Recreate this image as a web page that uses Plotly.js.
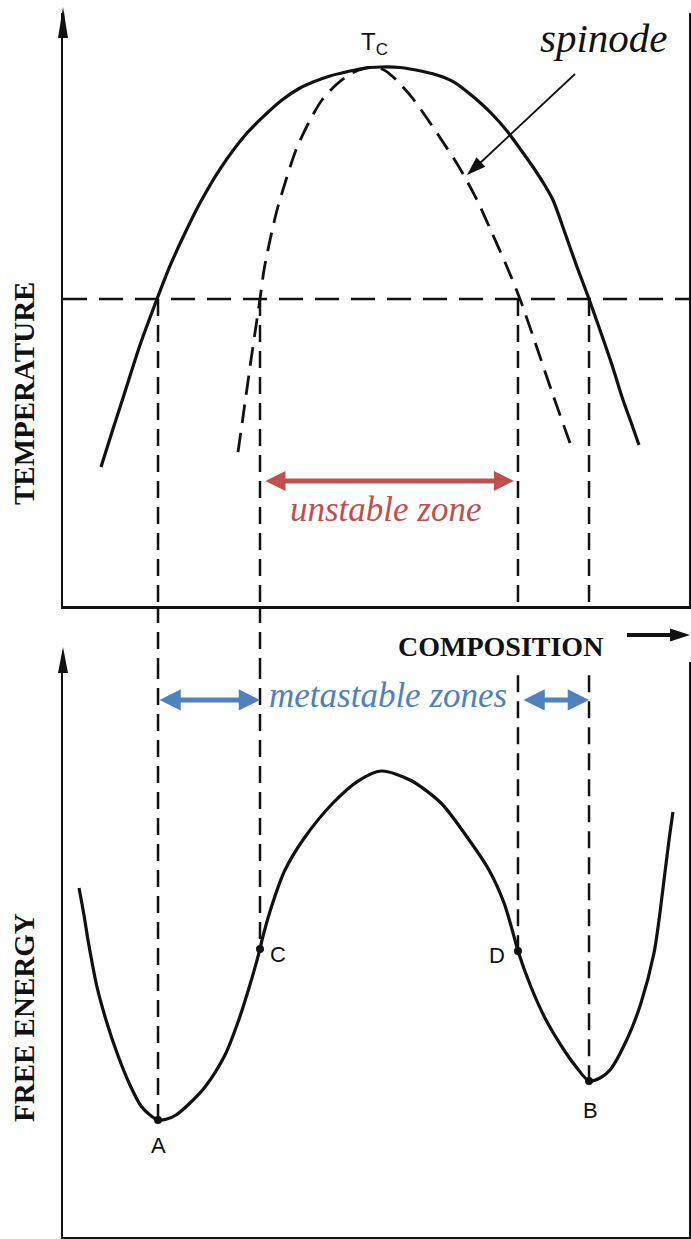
<!DOCTYPE html>
<html><head><meta charset="utf-8">
<script src="https://cdn.plot.ly/plotly-3.0.1.min.js"></script>
<style>html,body{margin:0;padding:0;background:#fff;} #chart{width:691px;height:1239px;}</style>
</head><body><div id="chart"></div>
<script>
// ---------- DATA (composition 0-1, temperature / free energy in arbitrary units 0-100) ----------
const binodalX = [0.0607,0.0783,0.0974,0.1230,0.1502,0.1709,0.1949,0.2188,0.2508,0.2939,0.3227,0.3498,0.3786,0.3994,0.4265,0.4553,0.4824,0.5080,
                  0.5383,0.5751,0.6022,0.6246,0.6597,0.6853,0.7093,0.7316,0.7508,0.7684,0.7827,0.8019,0.8211,0.8403,0.8578,0.8770,0.8946,0.9073,0.9201];
const binodalT = [23.44,29.34,35.58,44.01,51.77,57.34,62.90,67.96,73.69,79.76,82.80,85.33,87.35,88.36,89.38,90.13,90.73,90.89,
                  90.81,90.13,89.38,88.36,85.50,82.97,80.10,76.90,74.03,71.16,68.47,62.90,57.17,51.77,46.54,40.64,34.74,31.03,27.15];
const spinodalX = [0.2796,0.2891,0.3003,0.3083,0.3147,0.3211,0.3307,0.3419,0.3562,0.3722,0.3930,0.4137,0.4377,0.4617,0.4824,0.4984,
                   0.5128,0.5256,0.5415,0.5607,0.5974,0.6326,0.6613,0.6853,0.7093,0.7300,0.7572,0.7827,0.8099];
const spinodalT = [25.97,33.05,41.48,47.22,51.77,56.66,61.72,66.78,71.84,76.90,81.62,85.33,88.03,89.88,90.64,90.84,
                   90.39,89.38,87.69,85.33,79.76,74.03,68.47,62.90,57.17,51.77,43.51,35.58,27.49];
const tieT = 51.77;          // temperature of the horizontal dashed line
const criticalX = 0.505, criticalT = 90.89;

const energyX = [0.0256,0.0335,0.0399,0.0463,0.0543,0.0687,0.0863,0.1070,0.1246,0.1390,0.1518,0.1661,0.1805,0.2013,0.2268,0.2588,0.2796,0.2971,
                 0.3147,0.3179,0.3339,0.3546,0.3866,0.4313,0.4712,0.5080,0.5543,0.6038,0.6454,0.6805,0.7045,0.7220,0.7268,0.7476,0.7716,
                 0.8035,0.8211,0.8403,0.8578,0.8738,0.9026,0.9233,0.9441,0.9521,0.9601,0.9681,0.9744];
const energyG = [60.70,56.00,51.65,47.83,43.48,37.74,32.00,26.43,22.78,21.22,20.35,20.52,21.22,23.13,26.09,31.65,37.39,43.30,
                 50.09,51.65,57.74,63.83,69.57,75.48,79.30,81.04,79.48,75.48,69.57,63.83,58.09,51.65,49.74,43.48,37.74,
                 32.00,29.39,27.13,27.65,29.04,34.78,40.70,49.39,55.13,62.09,69.04,73.91];

const pointLabels = ['A','C','D','B'];
const pointX = [0.1518,0.3147,0.7268,0.8403];
const pointG = [20.35,50.09,49.74,27.13];
const guideStartG = [100,100,97.7,97.7];   // where each guide re-enters the lower panel

const labelTemperature = 'TEMPERATURE';
const labelEnergy = 'FREE ENERGY';
const labelComposition = 'COMPOSITION';
const labelSpinode = 'spinode';
const labelUnstable = 'unstable zone';
const labelMetastable = 'metastable zones';

// ---------- helpers for decoration in paper space ----------
const FIG_W = 691, FIG_H = 1239, ML = 63, MR = 2, MT = 0, MB = 2;
const PW = FIG_W - ML - MR, PH = FIG_H - MT - MB;
const ppx = x => (x - ML) / PW;
const ppy = y => 1 - (y - MT) / PH;
function headPath(tx, ty, fx, fy, len, hw) {
  const dx = tx - fx, dy = ty - fy, d = Math.hypot(dx, dy);
  const ux = dx / d, uy = dy / d;
  const bx = tx - ux * len, by = ty - uy * len;
  const nx = -uy, ny = ux;
  return 'M' + ppx(tx) + ',' + ppy(ty) + ' L' + ppx(bx + nx * hw) + ',' + ppy(by + ny * hw) +
         ' L' + ppx(bx - nx * hw) + ',' + ppy(by - ny * hw) + ' Z';
}
const INK = '#111111';
const topDomain = [ppy(606), ppy(13)];
const botDomain = [0, ppy(662)];
const GUIDE = {color: INK, width: 2.5, dash: '17px,9px'};

// ---------- traces ----------
const guideTopX = [], guideTopY = [], guideBotX = [], guideBotY = [];
pointX.forEach((x, i) => {
  guideTopX.push(x, x, null); guideTopY.push(tieT, 0, null);
  guideBotX.push(x, x, null); guideBotY.push(guideStartG[i], pointG[i], null);
});

const traces = [
  {x: binodalX, y: binodalT, xaxis: 'x', yaxis: 'y', mode: 'lines', line: {color: INK, width: 3.2, shape: 'spline', smoothing: 0.8}, hoverinfo: 'skip'},
  {x: spinodalX, y: spinodalT, xaxis: 'x', yaxis: 'y', mode: 'lines', line: {color: INK, width: 2.8, shape: 'spline', smoothing: 0.8, dash: '19px,10px'}, hoverinfo: 'skip'},
  {x: [0, 1], y: [tieT, tieT], xaxis: 'x', yaxis: 'y', mode: 'lines', line: {color: INK, width: 2.6, dash: '24px,12px'}, hoverinfo: 'skip'},
  {x: guideTopX, y: guideTopY, xaxis: 'x', yaxis: 'y', mode: 'lines', line: GUIDE, hoverinfo: 'skip'},
  {x: guideBotX, y: guideBotY, xaxis: 'x2', yaxis: 'y2', mode: 'lines', line: GUIDE, hoverinfo: 'skip'},
  {x: energyX, y: energyG, xaxis: 'x2', yaxis: 'y2', mode: 'lines', line: {color: INK, width: 3.2, shape: 'spline', smoothing: 0.8}, hoverinfo: 'skip'},
  {x: pointX, y: pointG, xaxis: 'x2', yaxis: 'y2', mode: 'markers', marker: {color: INK, size: 8}, hoverinfo: 'skip'}
];

// ---------- shapes (connectors between panels + arrows) ----------
const shapes = [];
// the two left guides run on through the gap between the panels
[0, 1].forEach(i => shapes.push({type: 'line', xref: 'x', yref: 'paper', x0: pointX[i], x1: pointX[i],
  y0: topDomain[0], y1: botDomain[1], line: GUIDE}));
// y-axis arrowheads
shapes.push({type: 'path', xref: 'paper', yref: 'paper', path: headPath(63, 7, 63, 40, 31, 5), fillcolor: INK, line: {width: 0}});
shapes.push({type: 'line', xref: 'paper', yref: 'paper', x0: 0, x1: 0, y0: ppy(13), y1: ppy(30), line: {color: INK, width: 2.5}});
shapes.push({type: 'path', xref: 'paper', yref: 'paper', path: headPath(63, 647, 63, 680, 26, 5), fillcolor: INK, line: {width: 0}});
// composition arrow
shapes.push({type: 'line', xref: 'paper', yref: 'paper', x0: ppx(627), x1: ppx(674), y0: ppy(635), y1: ppy(635), line: {color: INK, width: 4}});
shapes.push({type: 'path', xref: 'paper', yref: 'paper', path: headPath(690, 635, 627, 635, 20, 6.5), fillcolor: INK, line: {width: 0}});
// spinode pointer
shapes.push({type: 'line', xref: 'paper', yref: 'paper', x0: ppx(575), y0: ppy(74), x1: ppx(479), y1: ppy(164), line: {color: INK, width: 1.8}});
shapes.push({type: 'path', xref: 'paper', yref: 'paper', path: headPath(467, 175, 575, 74, 19, 6.5), fillcolor: INK, line: {width: 0}});

// ---------- annotations ----------
const serif = 'Liberation Serif, Times New Roman, serif';
const sans = 'Liberation Sans, Arial, sans-serif';
const RED = '#c0504d', BLUE = '#4f81bd';
const C = {xanchor: 'center', yanchor: 'middle', showarrow: false};
const annotations = [
  Object.assign({xref: 'paper', yref: 'paper', x: ppx(24), y: ppy(394), text: '<b>' + labelTemperature + '</b>', textangle: -90, font: {family: serif, size: 29, color: INK}}, C),
  Object.assign({xref: 'paper', yref: 'paper', x: ppx(24), y: ppy(1018), text: '<b>' + labelEnergy + '</b>', textangle: -90, font: {family: serif, size: 29, color: INK}}, C),
  Object.assign({xref: 'paper', yref: 'paper', x: ppx(500), y: ppy(646), text: '<b>' + labelComposition + '</b>', font: {family: serif, size: 28, color: INK}}, C),
  Object.assign({xref: 'x', yref: 'y', x: 0.864, y: 95.8, text: '<i>' + labelSpinode + '</i>', font: {family: serif, size: 41, color: INK}}, C),
  Object.assign({xref: 'x', yref: 'y', x: criticalX, y: criticalT, yshift: 24, xshift: -5, text: 'T<sub>C</sub>', font: {family: sans, size: 24, color: INK}}, C),
  // unstable zone
  {xref: 'x', yref: 'y', x: pointX[2], y: 21.1, ax: pointX[1], ay: 21.1, axref: 'x', ayref: 'y', text: '', showarrow: true,
   arrowside: 'end+start', arrowhead: 2, startarrowhead: 2, arrowwidth: 5, arrowsize: 0.8, startarrowsize: 0.8, arrowcolor: RED, standoff: 4, startstandoff: 4},
  Object.assign({xref: 'x', yref: 'y', x: 0.516, y: 16.2, text: '<i>' + labelUnstable + '</i>', font: {family: serif, size: 35, color: RED}}, C),
  // metastable zones
  {xref: 'x2', yref: 'y2', x: pointX[1], y: 93.4, ax: pointX[0], ay: 93.4, axref: 'x2', ayref: 'y2', text: '', showarrow: true,
   arrowside: 'end+start', arrowhead: 2, startarrowhead: 2, arrowwidth: 5, arrowsize: 0.85, startarrowsize: 0.85, arrowcolor: BLUE, standoff: 0, startstandoff: 0},
  {xref: 'x2', yref: 'y2', x: pointX[3], y: 93.4, ax: pointX[2], ay: 93.4, axref: 'x2', ayref: 'y2', text: '', showarrow: true,
   arrowside: 'end+start', arrowhead: 2, startarrowhead: 2, arrowwidth: 5, arrowsize: 0.85, startarrowsize: 0.85, arrowcolor: BLUE, standoff: 0, startstandoff: 4},
  Object.assign({xref: 'x2', yref: 'y2', x: 0.519, y: 94.1, text: '<i>' + labelMetastable + '</i>', font: {family: serif, size: 35, color: BLUE}}, C)
];
const labelShift = {A: [0, -26], C: [18, -6], D: [-21, -4], B: [1, -29]};
pointLabels.forEach((lab, i) => annotations.push(Object.assign({xref: 'x2', yref: 'y2', x: pointX[i], y: pointG[i],
  xshift: labelShift[lab][0], yshift: labelShift[lab][1], text: lab, font: {family: sans, size: 22, color: INK}}, C)));

const axBase = {showline: true, linecolor: INK, linewidth: 2.5, showgrid: false, zeroline: false, showticklabels: false, ticks: '', fixedrange: true};
const layout = {
  width: FIG_W, height: FIG_H, margin: {l: ML, r: MR, t: MT, b: MB},
  paper_bgcolor: '#ffffff', plot_bgcolor: '#ffffff', showlegend: false,
  xaxis: Object.assign({}, axBase, {domain: [0, 1], range: [0, 1], anchor: 'y'}),
  xaxis2: Object.assign({}, axBase, {domain: [0, 1], range: [0, 1], anchor: 'y2', matches: 'x'}),
  yaxis: Object.assign({}, axBase, {domain: topDomain, range: [0, 100], anchor: 'x', mirror: true}),
  yaxis2: Object.assign({}, axBase, {domain: botDomain, range: [0, 100], anchor: 'x2', mirror: true}),
  shapes: shapes, annotations: annotations
};
Plotly.newPlot('chart', traces, layout, {staticPlot: true, displayModeBar: false});
</script>
</body></html>
